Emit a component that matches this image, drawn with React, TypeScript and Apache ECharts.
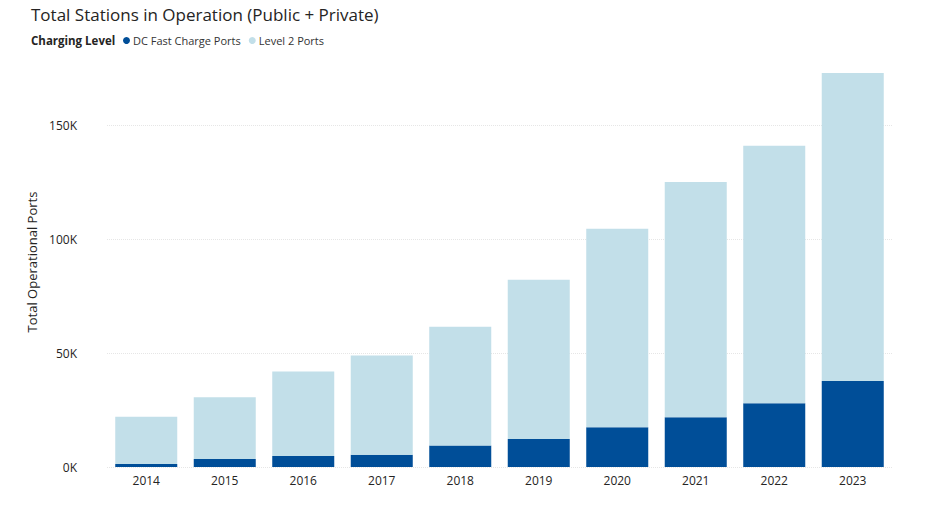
import React, { useEffect, useRef } from "react";
import * as echarts from "echarts";

const years = ["2014", "2015", "2016", "2017", "2018", "2019", "2020", "2021", "2022", "2023"];
const dcFast = [1300, 3500, 4800, 5400, 9400, 12300, 17400, 21800, 28000, 37800];
const totals = [22100, 30600, 41900, 49000, 61600, 82200, 104600, 125100, 141000, 173000];
const level2 = totals.map((t, i) => t - dcFast[i]);

const FONT = "'Open Sans', 'Noto Sans', sans-serif";

export default function App() {
  const ref = useRef<HTMLDivElement>(null);
  useEffect(() => {
    const chart = echarts.init(ref.current!, null, { renderer: "svg" });
    chart.setOption({
      animation: false,
      textStyle: { fontFamily: FONT },
      title: {
        text: "Total Stations in Operation (Public + Private)",
        left: 26,
        top: 1,
        textStyle: { fontFamily: FONT, fontSize: 17, fontWeight: "normal", color: "#252423" },
      },
      graphic: [
        {
          type: "text",
          left: 31,
          top: 34,
          style: { text: "Charging Level", font: `bold 11.5px ${FONT}`, fill: "#252423" },
        },
      ],
      legend: {
        left: 118,
        top: 30,
        icon: "circle",
        itemWidth: 7,
        itemHeight: 7,
        itemGap: 8,
        textStyle: { fontFamily: FONT, fontSize: 11, color: "#333333", padding: [0, 0, 0, -2] },
        data: ["DC Fast Charge Ports", "Level 2 Ports"],
      },
      grid: { left: 107, right: 44, top: 57, bottom: 56 },
      xAxis: {
        type: "category",
        data: years,
        axisLine: { show: false },
        axisTick: { show: false },
        axisLabel: { fontFamily: FONT, fontSize: 12, color: "#252423", margin: 7 },
      },
      yAxis: {
        type: "value",
        min: 0,
        max: 180000,
        interval: 50000,
        name: "Total Operational Ports",
        nameLocation: "middle",
        nameGap: 52,
        nameTextStyle: { fontFamily: FONT, fontSize: 13, color: "#252423" },
        axisLabel: {
          fontFamily: FONT,
          fontSize: 12,
          color: "#252423",
          margin: 30,
          showMaxLabel: false,
          formatter: (v: number) => `${v / 1000}K`,
        },
        splitLine: { show: true, showMaxLine: false, lineStyle: { color: "#E6E6E6", type: "dotted", width: 1 } },
      },
      series: [
        {
          name: "DC Fast Charge Ports",
          type: "bar",
          stack: "total",
          data: dcFast,
          barCategoryGap: "21%",
          itemStyle: { color: "#004E98" },
        },
        {
          name: "Level 2 Ports",
          type: "bar",
          stack: "total",
          data: level2,
          itemStyle: { color: "#C2DFE9" },
        },
      ],
    });
    return () => chart.dispose();
  }, []);
  return <div ref={ref} style={{ position: "absolute", left: 0, top: 0, width: 936, height: 523 }} />;
}
